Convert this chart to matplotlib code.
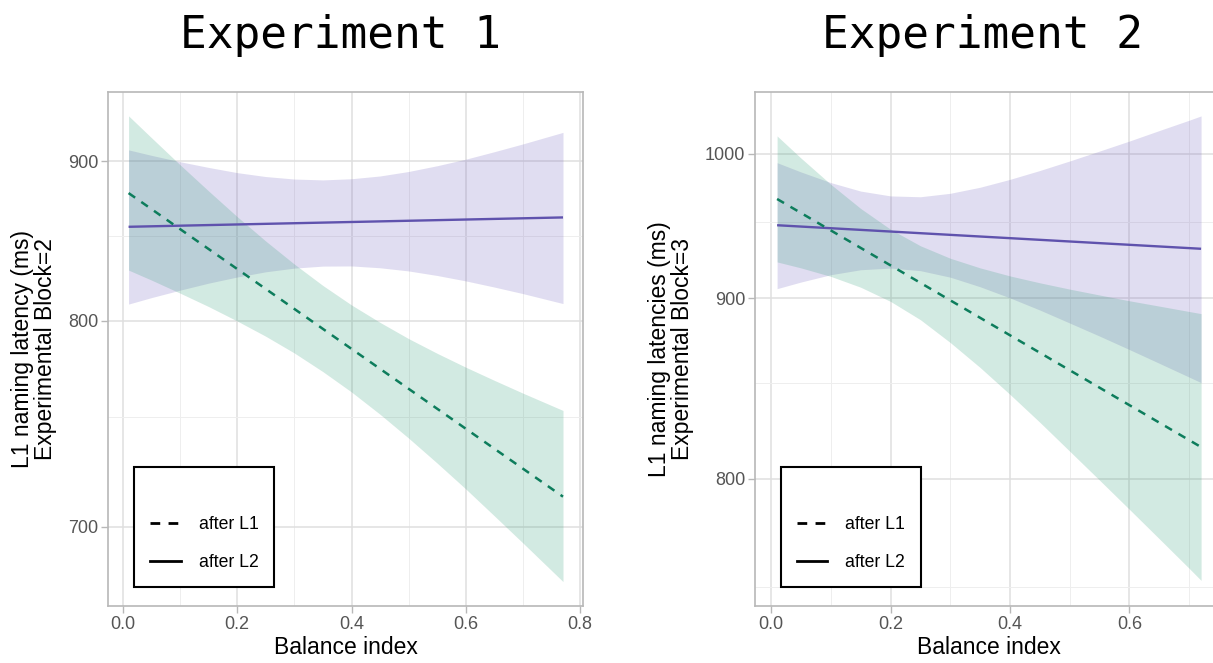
import matplotlib
matplotlib.use("Agg")
import matplotlib.pyplot as plt
from matplotlib.lines import Line2D
import numpy as np

# Experiment 1 (Experimental Block = 2)
x1 = [0.01, 0.05, 0.1, 0.15, 0.2, 0.25, 0.3, 0.35, 0.4, 0.45, 0.5, 0.55, 0.6, 0.65, 0.7, 0.77]
exp1_l1_upper = [932.9, 916.7, 897.4, 879.4, 862.5, 847.0, 832.9, 820.2,
                 809.0, 799.2, 790.3, 782.4, 775.1, 768.3, 761.8, 753.2]
exp1_l1_lower = [829.3, 823.4, 815.8, 808.1, 800.0, 791.6, 782.6, 772.8,
                 762.4, 751.3, 739.8, 728.1, 716.4, 704.6, 693.1, 677.4]
exp1_l2_upper = [907.9, 904.0, 899.5, 895.5, 891.9, 889.2, 887.5, 886.9,
                 887.7, 889.6, 892.7, 896.7, 901.3, 906.6, 912.2, 920.6]
exp1_l2_lower = [809.5, 813.2, 817.5, 821.6, 825.2, 828.3, 830.5, 831.7,
                 831.8, 830.7, 828.8, 826.1, 822.9, 819.3, 815.5, 809.8]
exp1_fit_x = [0.01, 0.77]
exp1_l1_fit = [878, 713]
exp1_l2_fit = [856, 862]

# Experiment 2 (Experimental Block = 3)
x2 = [0.01, 0.05, 0.1, 0.15, 0.2, 0.25, 0.3, 0.35, 0.4, 0.45, 0.5, 0.55, 0.6, 0.65, 0.7, 0.72]
exp2_l1_upper = [1014.0, 996.8, 977.1, 959.7, 945.2, 934.0, 925.7, 919.4,
                 914.2, 909.8, 905.8, 902.1, 898.5, 895.2, 891.9, 890.6]
exp2_l1_lower = [923.3, 919.4, 913.9, 907.0, 898.1, 886.9, 873.3, 858.9,
                 843.9, 828.9, 813.9, 799.4, 785.3, 771.6, 758.3, 753.0]
exp2_l2_upper = [993.3, 986.3, 978.4, 972.2, 968.7, 968.1, 970.6, 975.0,
                 980.8, 987.4, 994.6, 1002.2, 1010.0, 1018.3, 1026.6, 1030.1]
exp2_l2_lower = [906.1, 910.3, 915.0, 918.2, 919.3, 917.6, 913.4, 907.3,
                 900.3, 892.8, 884.9, 877.1, 869.2, 861.3, 853.5, 850.4]
exp2_fit_x = [0.01, 0.72]
exp2_l1_fit = [966.5, 816]
exp2_l2_fit = [948, 932]

GREEN = "#0d7d5c"
PURPLE = "#5f52ad"
GREEN_FILL = "#2f9c77"
PURPLE_FILL = "#7060be"

plt.rcParams['font.family'] = ['Liberation Sans', 'DejaVu Sans']

fig = plt.figure(figsize=(12.13, 6.63), dpi=100)
W, H = 1213, 663


def make_axes(left, right, top, bottom):
    return fig.add_axes([left / W, 1 - bottom / H, (right - left) / W, (bottom - top) / H])


# response shown on inverse (1/y) scale
inv_fwd = lambda v: -1.0 / np.asarray(v, dtype=float)
inv_back = lambda t: -1.0 / np.asarray(t, dtype=float)


def panel(ax, x, l1_up, l1_lo, l2_up, l2_lo, fx, l1_fit, l2_fit,
          xlim, ylim, xmajor, xminor, ymajor, yminor, ylabel):
    ax.set_yscale('function', functions=(inv_fwd, inv_back))
    ax.fill_between(x, l2_lo, l2_up, color=PURPLE_FILL, alpha=0.21, lw=0)
    ax.fill_between(x, l1_lo, l1_up, color=GREEN_FILL, alpha=0.21, lw=0)
    ax.plot(fx, l2_fit, color=PURPLE, lw=1.7, solid_capstyle='butt')
    ax.plot(fx, l1_fit, color=GREEN, lw=1.8, dashes=(3.2, 3.0))
    ax.set_xlim(*xlim)
    ax.set_ylim(*ylim)
    ax.set_xticks(xmajor)
    ax.set_xticks(xminor, minor=True)
    ax.set_yticks(ymajor)
    ax.set_yticks(yminor, minor=True)
    ax.set_yticklabels([str(v) for v in ymajor])
    ax.set_xticklabels(["%.1f" % v for v in xmajor])
    ax.grid(which='major', color='#dfdfdf', lw=1.1)
    ax.grid(which='minor', color='#eeeeee', lw=0.7)
    ax.set_axisbelow(True)
    for s in ax.spines.values():
        s.set_color('#b8b8b8')
        s.set_linewidth(1.2)
    ax.tick_params(which='major', length=5, width=1.0, color='#b8b8b8',
                   labelsize=13, labelcolor='#555555', pad=2)
    ax.tick_params(which='minor', length=0)
    ax.set_xlabel('Balance index', fontsize=16.5, labelpad=2)
    ax.set_ylabel(ylabel, fontsize=16.5, linespacing=1.0, labelpad=8)
    handles = [Line2D([], [], color='black', lw=2.0, dashes=(3.5, 3.0)),
               Line2D([], [], color='black', lw=2.0)]
    leg = ax.legend(handles, ['after L1', 'after L2'], loc='lower left',
                    bbox_to_anchor=(0.055, 0.037), borderaxespad=0,
                    fontsize=12.7, handlelength=1.75, handletextpad=1.0,
                    labelspacing=1.2, borderpad=0.9, title=' ', title_fontsize=9,
                    fancybox=False, framealpha=1)
    leg.get_frame().set_edgecolor('black')
    leg.get_frame().set_linewidth(1.5)


ax1 = make_axes(108, 583, 92, 606)
panel(ax1, x1, exp1_l1_upper, exp1_l1_lower, exp1_l2_upper, exp1_l2_lower,
      exp1_fit_x, exp1_l1_fit, exp1_l2_fit,
      (-0.026, 0.805), (667.8, 951.3), [0.0, 0.2, 0.4, 0.6, 0.8], [0.1, 0.3, 0.5, 0.7],
      [700, 800, 900], [750, 850],
      'L1 naming latency (ms)\nExperimental Block=2')

ax2 = make_axes(755, 1222, 92, 606)
panel(ax2, x2, exp2_l1_upper, exp2_l1_lower, exp2_l2_upper, exp2_l2_lower,
      exp2_fit_x, exp2_l1_fit, exp2_l2_fit,
      (-0.027, 0.755), (742, 1050), [0.0, 0.2, 0.4, 0.6], [0.1, 0.3, 0.5, 0.7],
      [800, 900, 1000], [750, 850, 950],
      'L1 naming latencies (ms)\nExperimental Block=3')

fig.text(340 / W, 1 - 48 / H, 'Experiment 1', family='DejaVu Sans Mono',
         fontsize=32, ha='center', va='baseline')
fig.text(983 / W, 1 - 48 / H, 'Experiment 2', family='DejaVu Sans Mono',
         fontsize=32, ha='center', va='baseline')

fig.savefig('out.png', dpi=100)
